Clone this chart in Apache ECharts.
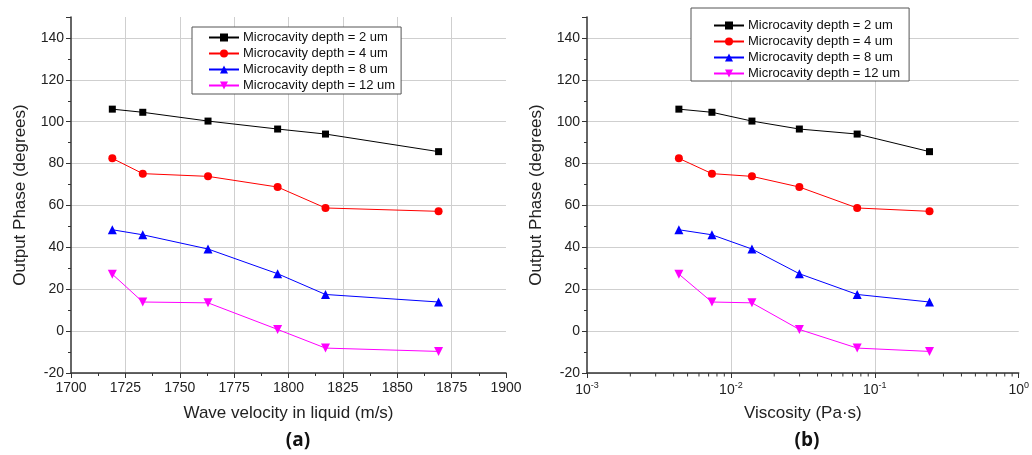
<!DOCTYPE html>
<html><head><meta charset="utf-8">
<script src="https://cdn.jsdelivr.net/npm/echarts@6/dist/echarts.min.js"></script>
<style>html,body{margin:0;padding:0;background:#fff}#c{width:1032px;height:455px}</style>
</head><body><div id="c"></div>
<script>
const seriesNames = ['Microcavity depth = 2 um', 'Microcavity depth = 4 um', 'Microcavity depth = 8 um', 'Microcavity depth = 12 um'];
const velocity = [1719, 1733, 1763, 1795, 1817, 1869];
const viscosity = [0.00435, 0.00738, 0.0140, 0.0299, 0.0754, 0.240];
const phase2um = [106, 104.5, 100.3, 96.5, 94.1, 85.7];
const phase4um = [82.5, 75.2, 73.9, 68.8, 58.8, 57.2];
const phase8um = [48.4, 46, 39.2, 27.4, 17.5, 13.9];
const phase12um = [27.2, 13.9, 13.5, 0.8, -8.1, -9.7];
const logMinorTicks = [0.002,0.003,0.004,0.005,0.006,0.007,0.008,0.009,0.02,0.03,0.04,0.05,0.06,0.07,0.08,0.09,0.2,0.3,0.4,0.5,0.6,0.7,0.8,0.9];
const panelLabels = ['(a)', '(b)'];

const phases = [phase2um, phase4um, phase8um, phase12um];
const colors = ['#000000', '#ff0000', '#0000ff', '#ff00ff'];
const symbols = ['rect', 'circle', 'triangle', 'path://M0,0L10,0L5,9Z'];
const sizes = [7, 8, 9, 9];
const FONT = 'Liberation Sans, Arial, sans-serif';
const axisColor = '#333';

function yAxis(gi) {
  return {
    type: 'value', gridIndex: gi, min: -20, max: 150, interval: 20,
    name: 'Output Phase (degrees)', nameLocation: 'middle', nameGap: 42,
    nameTextStyle: {fontFamily: FONT, fontSize: 17, color: '#222'},
    axisLine: {show: true, onZero: false, lineStyle: {color: axisColor, width: 1.5}},
    axisTick: {show: true, length: 5, lineStyle: {color: axisColor}},
    minorTick: {show: true, splitNumber: 2, length: 3, lineStyle: {color: axisColor}},
    axisLabel: {showMaxLabel: false, fontFamily: FONT, fontSize: 14, color: '#222', margin: 7},
    splitLine: {show: true, showMaxLine: false, lineStyle: {color: '#cfcfcf', width: 1}}
  };
}

const series = [];
for (let g = 0; g < 2; g++) {
  const xs = g === 0 ? velocity : viscosity;
  for (let i = 0; i < 4; i++) {
    series.push({
      name: seriesNames[i], type: 'line', xAxisIndex: g, yAxisIndex: g,
      data: xs.map((x, k) => [x, phases[i][k]]),
      symbol: symbols[i], symbolSize: sizes[i], showAllSymbol: true,
      itemStyle: {color: colors[i]},
      lineStyle: {color: colors[i], width: 1},
      emphasis: {disabled: true}, animation: false, z: 3
    });
  }
}
series.push({
  type: 'custom', xAxisIndex: 1, yAxisIndex: 1, silent: true, animation: false, z: 5,
  data: logMinorTicks.map(v => [v, -20]),
  renderItem: (params, api) => {
    const p = api.coord([api.value(0), api.value(1)]);
    return {type: 'line', shape: {x1: p[0], y1: p[1], x2: p[0], y2: p[1] + 3.5}, style: {stroke: axisColor, lineWidth: 1}};
  }
});

function legend(left, top, padding) {
  return {
    left: left, top: top, orient: 'vertical', data: seriesNames,
    itemWidth: 30, itemHeight: 10, itemGap: 3, padding: padding,
    backgroundColor: '#fff', borderColor: '#555', borderWidth: 1, borderRadius: 0,
    selectedMode: false,
    textStyle: {fontFamily: FONT, fontSize: 13, color: '#111', lineHeight: 13, padding: [0, 0, 0, -1]}
  };
}

const option = {
  animation: false,
  backgroundColor: '#fff',
  title: [
    {text: panelLabels[0], left: 293, top: 426, textAlign: 'center', textStyle: {fontFamily: 'Open Sans', fontWeight: 'bold', fontSize: 19, color: '#111'}},
    {text: panelLabels[1], left: 802, top: 426, textAlign: 'center', textStyle: {fontFamily: 'Open Sans', fontWeight: 'bold', fontSize: 19, color: '#111'}}
  ],
  grid: [
    {left: 71, right: 526, top: 17, bottom: 82},
    {left: 587, right: 11, top: 17, bottom: 82}
  ],
  legend: [legend(192, 27, [4, 6, 2, 16]), legend(691, 8, [11, 9, 1, 22])],
  xAxis: [
    {
      type: 'value', gridIndex: 0, min: 1700, max: 1900, interval: 25,
      name: 'Wave velocity in liquid (m/s)', nameLocation: 'middle', nameGap: 32,
      nameTextStyle: {fontFamily: FONT, fontSize: 17, color: '#222'},
      axisLine: {show: true, onZero: false, lineStyle: {color: axisColor, width: 1.5}},
      axisTick: {show: true, length: 5, lineStyle: {color: axisColor}},
      minorTick: {show: true, splitNumber: 2, length: 3, lineStyle: {color: axisColor}},
      axisLabel: {fontFamily: FONT, fontSize: 14, color: '#222', margin: 8, formatter: v => String(v)},
      splitLine: {show: true, showMinLine: false, showMaxLine: false, lineStyle: {color: '#cfcfcf', width: 1}}
    },
    {
      type: 'log', logBase: 10, gridIndex: 1, min: 0.001, max: 1,
      name: 'Viscosity (Pa·s)', nameLocation: 'middle', nameGap: 32,
      nameTextStyle: {fontFamily: FONT, fontSize: 17, color: '#222'},
      axisLine: {show: true, onZero: false, lineStyle: {color: axisColor, width: 1.5}},
      axisTick: {show: true, length: 5, lineStyle: {color: axisColor}},
      axisLabel: {
        margin: 8,
        formatter: v => '{b|10}{s|' + Math.round(Math.log10(v)) + '}',
        rich: {
          b: {fontFamily: FONT, fontSize: 14, color: '#222', lineHeight: 18},
          s: {fontFamily: FONT, fontSize: 9, color: '#222', verticalAlign: 'top', lineHeight: 10}
        }
      },
      splitLine: {show: true, showMinLine: false, showMaxLine: false, lineStyle: {color: '#cfcfcf', width: 1}}
    }
  ],
  yAxis: [yAxis(0), yAxis(1)],
  series: series
};
const chart = echarts.init(document.getElementById('c'), null, {renderer: 'canvas'});
chart.setOption(option);
</script></body></html>
